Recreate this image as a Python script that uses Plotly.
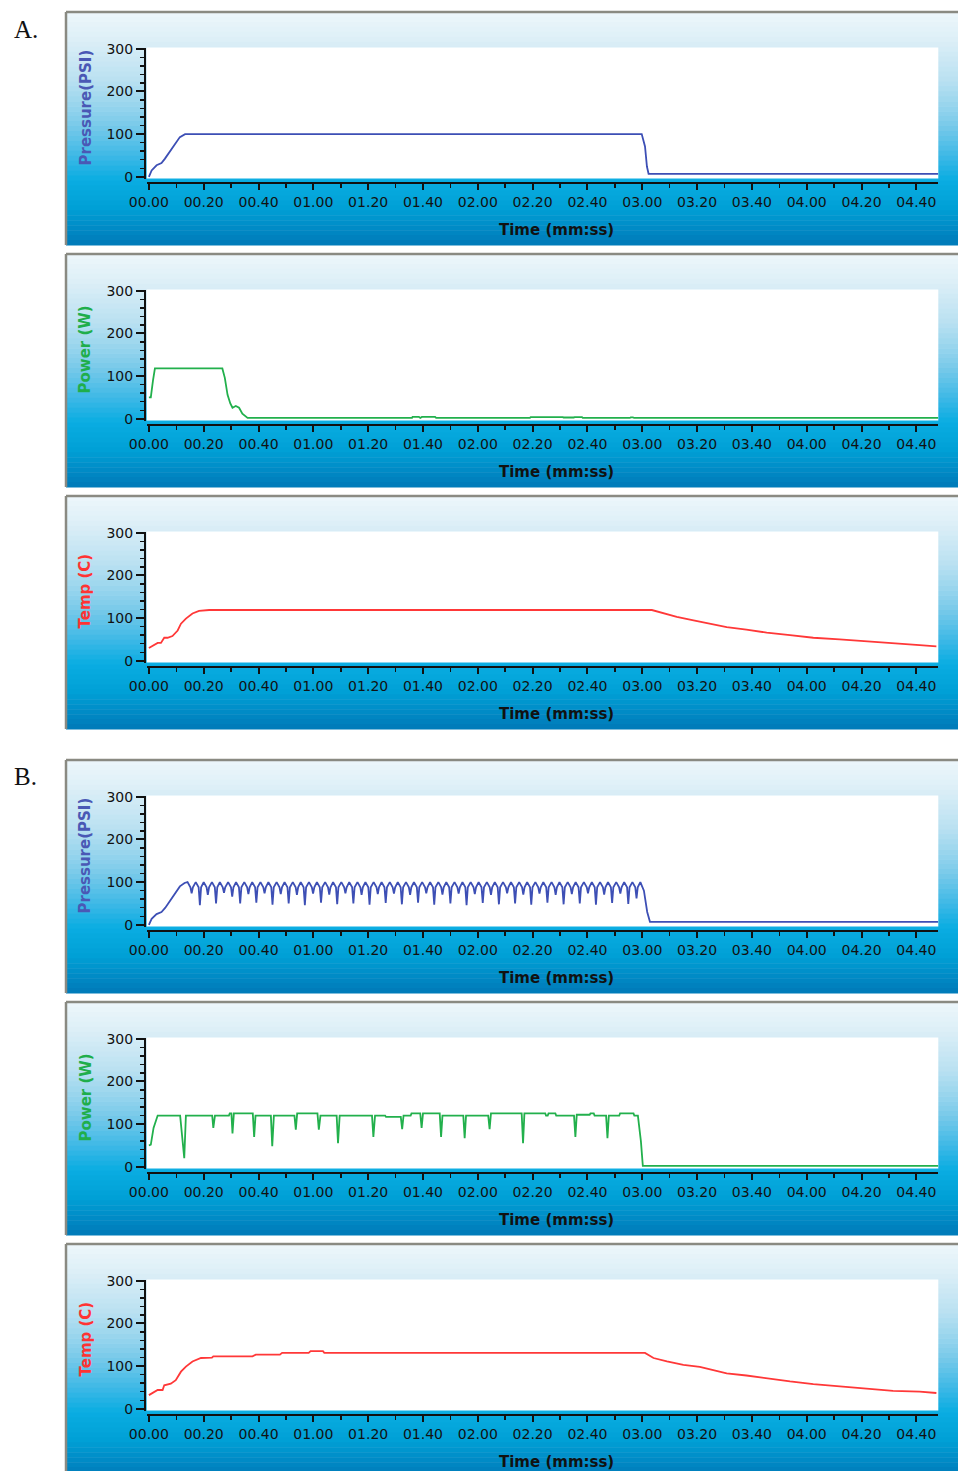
import plotly.graph_objects as go

# ---------------- data ----------------
TICK_VALS = [0, 20, 40, 60, 80, 100, 120, 140, 160, 180, 200, 220, 240, 260, 280]
TICK_LABELS = ["00.00", "00.20", "00.40", "01.00", "01.20", "01.40", "02.00", "02.20",
               "02.40", "03.00", "03.20", "03.40", "04.00", "04.20", "04.40"]
Y_TICKS = [0, 100, 200, 300]
Y_LABELS = ["Pressure(PSI)", "Power (W)", "Temp (C)"]
X_TITLE = "Time (mm:ss)"
SECTION_LABELS = ["A.", "B."]

# Panel A - pressure
a_press_t = [0, 1, 2.8, 4.6, 5.8, 7.6, 9.5, 11.3, 13.2, 179.8, 181.0, 181.7, 182.3, 288]
a_press_v = [0, 15, 27, 32, 42, 58, 76, 93, 100, 100, 71, 24, 7, 7]

# Panel A - power
a_power_t = [0, 0.7, 1.5, 2.2, 26.8, 27.7, 28.7, 29.7, 30.5, 31.7, 32.9, 34.1, 36,
             96, 96.2, 98.5, 99, 99.6, 104.4, 104.8, 139, 139.3, 151, 151.3, 155, 155.3,
             158, 158.3, 175.5, 175.8, 176.6, 177, 288]
a_power_v = [50, 50, 90, 118, 118, 96, 56, 36, 26, 30, 26, 12, 2,
             2, 4.5, 4.5, 2, 4.5, 4.5, 2, 2, 4, 4, 3, 3, 4,
             4, 2, 2, 3.5, 3.5, 2, 2]

# Panel A - temperature
a_temp_t = [0, 1.9, 3.2, 4.4, 5.6, 6.8, 8.6, 10.5, 11.7, 13.5, 15.9, 18.3, 22,
            183.5, 187.7, 192.6, 198.7, 204.7, 210.8, 218, 225.4, 233.9, 242.4, 252,
            261.8, 271.5, 281.2, 287.3]
a_temp_v = [30, 38, 42, 42, 54, 54, 58, 71, 87, 99, 111, 117, 119,
            119, 111, 103, 95, 87, 79, 73, 66, 60, 54, 50,
            45, 40, 36.5, 34]

# Panel B - pressure (ramp, pulsed hold, release)
b_press_rise_t = [0, 1, 2.8, 4.6, 6, 7.6, 9.5, 11.3, 13]
b_press_rise_v = [0, 14, 25, 30, 40, 56, 75, 90, 98]
b_press_peak_t = [14.1, 17.1, 20.0, 23.0, 25.9, 28.9, 31.8, 34.8, 37.7, 40.7, 43.6, 46.6,
                  49.5, 52.5, 55.4, 58.4, 61.3, 64.3, 67.2, 70.2, 73.1, 76.1, 79.0, 82.0,
                  84.9, 87.9, 90.8, 93.8, 96.7, 99.7, 102.6, 105.6, 108.5, 111.5, 114.4,
                  117.4, 120.3, 123.3, 126.2, 129.2, 132.1, 135.1, 138.0, 141.0, 143.9,
                  146.9, 149.8, 152.8, 155.7, 158.7, 161.6, 164.6, 167.5, 170.5, 173.4,
                  176.4, 179.3]
b_press_peak_v = [100] * 57
b_press_dip_t = [15.6, 18.6, 21.5, 24.5, 27.4, 30.4, 33.3, 36.3, 39.2, 42.2, 45.1, 48.1,
                 51.0, 54.0, 56.9, 59.9, 62.8, 65.8, 68.7, 71.7, 74.6, 77.6, 80.5, 83.5,
                 86.4, 89.4, 92.3, 95.3, 98.2, 101.2, 104.1, 107.1, 110.0, 113.0, 115.9,
                 118.9, 121.8, 124.8, 127.7, 130.7, 133.6, 136.6, 139.5, 142.5, 145.4,
                 148.4, 151.3, 154.3, 157.2, 160.2, 163.1, 166.1, 169.0, 172.0, 174.9,
                 177.9]
b_press_dip_v = [74, 46, 70, 50, 75, 66, 50, 72,
                 52, 74, 47, 72, 50, 70, 46, 73,
                 52, 71, 48, 74, 50, 70, 47, 72,
                 51, 73, 48, 70, 52, 74, 47, 71,
                 50, 73, 46, 72, 51, 70, 48, 74,
                 50, 71, 47, 73, 52, 70, 48, 72,
                 50, 74, 47, 71, 51, 73, 49, 62]
b_press_shoulder_v = 88          # level where each pulse starts its steep drop
b_press_fall_t = [180.6, 181.8, 182.8, 288]
b_press_fall_v = [80, 30, 7, 7]

# Panel B - power
b_power_t = [0, 0.7, 1.7, 3.2,
             11.4, 12.9, 13.5, 23.1, 23.5, 24.1, 29.2, 29.5, 30.1, 30.5, 31.0,
             37.9, 38.4, 38.9, 44.5, 45.0, 45.6, 53.1, 53.6, 54.1, 61.5, 62.0, 62.6,
             68.5, 69.0, 69.6, 81.4, 81.9, 82.5, 86.2, 86.5, 91.9, 92.4, 92.9,
             95.5, 95.8, 99.0, 99.5, 100.0, 106.1, 106.6, 107.1, 114.7, 115.2, 115.7,
             123.8, 124.3, 124.8, 136.0, 136.5, 137.0, 144.6, 144.9, 145.5, 145.8,
             148.3, 148.6, 155.1, 155.6, 156.1, 160.8, 161.1, 162.3, 162.6,
             166.8, 167.3, 167.8, 171.6, 171.9, 176.8, 177.1, 178.4, 179.5, 180.2, 288]
b_power_v = [50, 52, 91, 120,
             120, 20, 120, 120, 91, 120, 120, 125, 125, 78, 125,
             125, 70, 120, 120, 48, 120, 120, 87, 125, 125, 87, 120,
             120, 55, 120, 120, 70, 120, 120, 117, 117, 88, 120,
             120, 125, 125, 91, 125, 125, 70, 120, 120, 67, 120,
             120, 88, 125, 125, 55, 125, 125, 120, 120, 125,
             125, 120, 120, 70, 122, 122, 125, 125, 120,
             120, 67, 120, 120, 125, 125, 120, 120, 60, 2, 2]

# Panel B - temperature
b_temp_t = [0, 1.9, 3.2, 5, 5.6, 8, 9.8, 11.7, 13.5, 15.9,
            19, 23, 23.5, 37.8, 39, 47.8, 48.6, 58.3, 59, 63.5,
            64, 181, 184.1, 189, 195, 201, 206, 210.8, 218, 225.4,
            233.9, 242.4, 252, 261.8, 271.5, 281.2, 287.3]
b_temp_v = [32, 40, 44, 44, 55, 59, 67, 87, 99, 111,
            119, 120, 123, 123, 127, 127, 131, 131, 135, 135,
            131, 131, 119, 111, 103, 98, 90, 83, 78, 71,
            64, 58, 53, 47, 42, 40, 37]

# assemble the pulsed pressure series from its read-off pieces
b_press_t = list(b_press_rise_t)
b_press_v = list(b_press_rise_v)
for i in range(len(b_press_dip_t)):
    b_press_t += [b_press_peak_t[i], b_press_dip_t[i] - 0.45, b_press_dip_t[i],
                  b_press_dip_t[i] + 0.45]
    b_press_v += [b_press_peak_v[i], b_press_shoulder_v, b_press_dip_v[i],
                  b_press_shoulder_v]
b_press_t += [b_press_peak_t[-1]] + b_press_fall_t
b_press_v += [b_press_peak_v[-1]] + b_press_fall_v

# ---------------- layout ----------------
W, H = 958, 1471
BLUE, GREEN, RED = "#3d4fb5", "#22b04c", "#ff3838"
TITLE_COLORS = ["#4a58b5", "#1fae4b", "#ff3333"]
PANEL_TOPS = [12, 254, 496, 760, 1002, 1244]
PANEL_H = 233
series = [
    (a_press_t, a_press_v, BLUE, 0), (a_power_t, a_power_v, GREEN, 1), (a_temp_t, a_temp_v, RED, 2),
    (b_press_t, b_press_v, BLUE, 0), (b_power_t, b_power_v, GREEN, 1), (b_temp_t, b_temp_v, RED, 2),
]

GRAD = [(0.00, (238, 247, 251)), (0.12, (221, 239, 247)), (0.30, (184, 224, 241)),
        (0.48, (124, 203, 234)), (0.62, (61, 184, 230)), (0.72, (10, 173, 226)),
        (0.84, (0, 160, 214)), (1.00, (0, 121, 184))]


def grad_color(f):
    for (f0, c0), (f1, c1) in zip(GRAD[:-1], GRAD[1:]):
        if f0 <= f <= f1:
            u = (f - f0) / (f1 - f0)
            return "rgb(%d,%d,%d)" % tuple(round(a + (b - a) * u) for a, b in zip(c0, c1))
    return "rgb(%d,%d,%d)" % GRAD[-1][1]


def py(p):
    return 1 - p / H


def pxx(p):
    return p / W


fig = go.Figure()
shapes, annotations = [], []
layout_axes = {}
FONT = "DejaVu Sans"
NSTRIP = 47

for i, (tt, vv, col, kind) in enumerate(series):
    k = "" if i == 0 else str(i + 1)
    top = PANEL_TOPS[i]
    for s in range(NSTRIP):
        y0 = top + PANEL_H * s / NSTRIP
        y1 = top + PANEL_H * (s + 1) / NSTRIP + 0.6
        shapes.append(dict(type="rect", xref="paper", yref="paper", layer="below",
                           x0=pxx(66), x1=1.0, y0=py(y1), y1=py(y0),
                           line=dict(width=0), fillcolor=grad_color((s + 0.5) / NSTRIP)))
    shapes.append(dict(type="line", xref="paper", yref="paper", layer="below",
                       x0=pxx(66), x1=1.0, y0=py(top), y1=py(top),
                       line=dict(color="#8a8a82", width=2.5)))
    shapes.append(dict(type="line", xref="paper", yref="paper", layer="below",
                       x0=pxx(66), x1=pxx(66), y0=py(top), y1=py(min(top + PANEL_H, H)),
                       line=dict(color="#8a8a82", width=2.5)))
    pt, pb = top + 35.5, top + 166.5
    shapes.append(dict(type="rect", xref="paper", yref="paper", layer="below",
                       x0=pxx(146.7), x1=pxx(938.3), y0=py(pb), y1=py(pt),
                       line=dict(width=0), fillcolor="white"))

    fig.add_trace(go.Scatter(x=tt, y=vv, mode="lines", xaxis="x" + k, yaxis="y" + k,
                             line=dict(color=col, width=1.8), showlegend=False,
                             hoverinfo="skip"))

    layout_axes["xaxis" + k] = dict(
        domain=[pxx(146.7), pxx(938.3)], range=[-0.8, 288], anchor="free",
        position=py(top + 171), tickmode="array", tickvals=TICK_VALS, ticktext=TICK_LABELS,
        ticks="outside", ticklen=6, tickwidth=2, tickcolor="#111",
        showline=True, linecolor="#111", linewidth=2, showgrid=False, zeroline=False,
        tickfont=dict(family=FONT, size=14, color="#111"), automargin=False,
        minor=dict(tickmode="linear", tick0=0, dtick=10, ticks="outside", ticklen=4,
                   tickwidth=1.5, tickcolor="#111", showgrid=False),
        fixedrange=True)
    layout_axes["yaxis" + k] = dict(
        domain=[py(pb), py(pt)], range=[-4, 303], anchor="free", position=pxx(145),
        tickmode="array", tickvals=Y_TICKS, ticks="outside", ticklen=8, tickwidth=2,
        tickcolor="#111", showline=True, linecolor="#111", linewidth=2,
        showgrid=False, zeroline=False, automargin=False,
        tickfont=dict(family=FONT, size=14, color="#111"),
        minor=dict(tickmode="linear", tick0=0, dtick=20, ticks="outside", ticklen=4,
                   tickwidth=1.5, tickcolor="#111", showgrid=False),
        fixedrange=True)

    annotations.append(dict(xref="paper", yref="paper", x=pxx(85), y=py(top + 95.5),
                            text=Y_LABELS[kind], textangle=-90, showarrow=False,
                            xanchor="center", yanchor="middle",
                            font=dict(family=FONT, size=15, color=TITLE_COLORS[kind],
                                      weight="bold")))
    annotations.append(dict(xref="paper", yref="paper", x=pxx(556), y=py(top + 218),
                            text=X_TITLE, showarrow=False, xanchor="center",
                            yanchor="middle",
                            font=dict(family=FONT, size=15, color="#111", weight="bold")))

annotations.append(dict(xref="paper", yref="paper", x=pxx(12), y=py(29), text=SECTION_LABELS[0],
                        showarrow=False, xanchor="left", yanchor="middle",
                        font=dict(family="Liberation Serif", size=25, color="#111")))
annotations.append(dict(xref="paper", yref="paper", x=pxx(12), y=py(776), text=SECTION_LABELS[1],
                        showarrow=False, xanchor="left", yanchor="middle",
                        font=dict(family="Liberation Serif", size=25, color="#111")))

fig.update_layout(width=W, height=H, margin=dict(l=0, r=0, t=0, b=0, autoexpand=False),
                  paper_bgcolor="white", plot_bgcolor="rgba(0,0,0,0)",
                  shapes=shapes, annotations=annotations, **layout_axes)

fig.write_html("out.html", config={"displayModeBar": False, "staticPlot": True},
               post_script="document.body.style.margin='0';"
                           "document.documentElement.style.overflow='hidden';")
